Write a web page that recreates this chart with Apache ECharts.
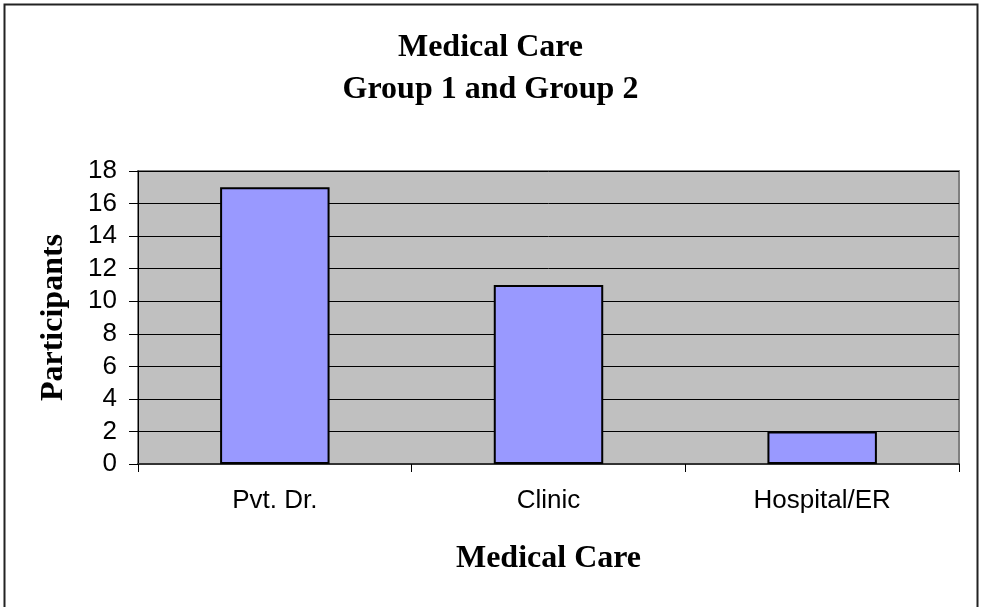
<!DOCTYPE html>
<html>
<head>
<meta charset="utf-8">
<title>Medical Care</title>
<script src="https://cdn.jsdelivr.net/npm/echarts@6/dist/echarts.min.js"></script>
<style>
    html, body { margin: 0; padding: 0; background: #fff; }
    #chart { width: 981px; height: 607px; }
</style>
</head>
<body>
<div id="chart"></div>
<script>
var categories = ['Pvt. Dr.', 'Clinic', 'Hospital/ER'];
var participants = [17, 11, 2];
var yTicks = [0, 2, 4, 6, 8, 10, 12, 14, 16, 18];

var serif = '"Liberation Serif", "Times New Roman", serif';
var sans = '"Liberation Sans", Arial, sans-serif';

var myChart = echarts.init(document.getElementById('chart'));
myChart.setOption({
    animation: false,
    backgroundColor: '#fff',
    title: {
        text: 'Medical Care\nGroup 1 and Group 2',
        left: 'center',
        top: 22,
        textStyle: {
            fontFamily: serif,
            fontWeight: 'bold',
            fontSize: 32,
            lineHeight: 42,
            color: '#000'
        }
    },
    // outer frame of the chart (bottom edge is cut off in the original)
    graphic: [{
        type: 'rect',
        shape: { x: 4.5, y: 4.5, width: 973, height: 640 },
        style: { fill: 'none', stroke: '#222', lineWidth: 2 },
        silent: true
    }],
    grid: {
        left: 138,
        right: 22,
        top: 171,
        bottom: 143,
        show: true,
        backgroundColor: '#C0C0C0',
        borderColor: '#808080',
        borderWidth: 2
    },
    xAxis: {
        type: 'category',
        data: categories,
        name: 'Medical Care',
        nameLocation: 'middle',
        nameGap: 79,
        nameTextStyle: {
            fontFamily: serif,
            fontWeight: 'bold',
            fontSize: 32,
            color: '#000'
        },
        axisLine: { lineStyle: { color: '#333', width: 2 } },
        axisTick: { show: true, length: 8, lineStyle: { color: '#000' } },
        axisLabel: {
            margin: 24,
            fontFamily: sans,
            fontSize: 26,
            color: '#000'
        }
    },
    yAxis: {
        type: 'value',
        min: yTicks[0],
        max: yTicks[yTicks.length - 1],
        interval: 2,
        name: 'Participants',
        nameLocation: 'middle',
        nameGap: 68,
        nameTextStyle: {
            fontFamily: serif,
            fontWeight: 'bold',
            fontSize: 32,
            color: '#000'
        },
        axisLine: { show: true, lineStyle: { color: '#000', width: 1 } },
        axisTick: { show: true, length: 9, lineStyle: { color: '#000' } },
        axisLabel: {
            margin: 21,
            fontFamily: sans,
            fontSize: 26,
            color: '#000'
        },
        splitLine: { show: true, lineStyle: { color: '#000', width: 1 } }
    },
    series: [{
        name: 'Participants',
        type: 'bar',
        data: participants,
        barWidth: '40%',
        itemStyle: {
            color: '#9999FF',
            borderColor: '#000',
            borderWidth: 2
        }
    }]
});
</script>
</body>
</html>
